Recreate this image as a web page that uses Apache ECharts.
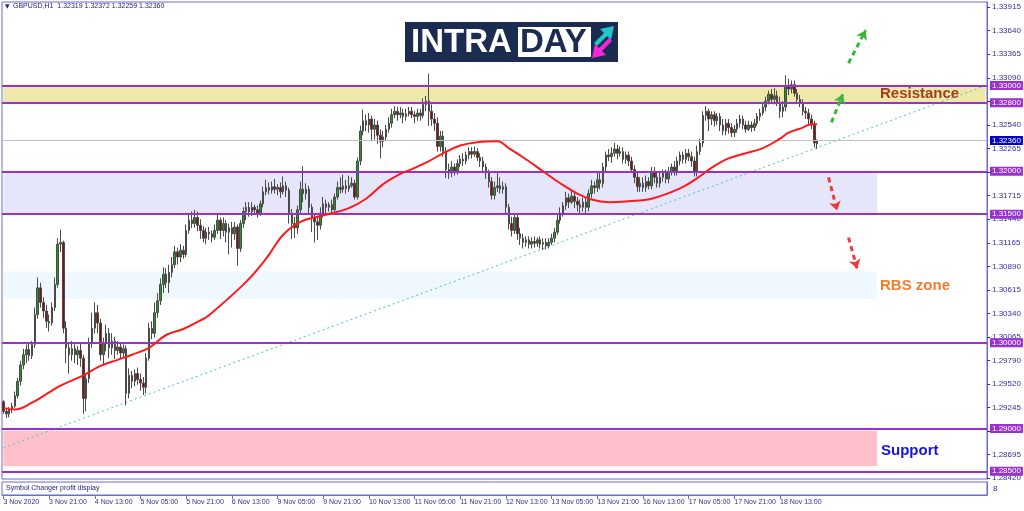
<!DOCTYPE html>
<html><head><meta charset="utf-8">
<script src="https://cdn.jsdelivr.net/npm/echarts@6/dist/echarts.min.js"></script>
<style>html,body{margin:0;padding:0;background:#fff}#c{width:1024px;height:511px}</style>
</head><body><div id="c"></div>
<script>
const tickLabels = ['3 Nov 2020','3 Nov 21:00','4 Nov 13:00','5 Nov 05:00','5 Nov 21:00','6 Nov 13:00','9 Nov 05:00','9 Nov 21:00','10 Nov 13:00','11 Nov 05:00','11 Nov 21:00','12 Nov 13:00','13 Nov 05:00','13 Nov 21:00','16 Nov 13:00','17 Nov 05:00','17 Nov 21:00','18 Nov 13:00'];
const TICK_STEP = 16;
const NSLOTS = 345;

const opens = [
1.2931,1.2920,1.2917,1.2922,1.2926,1.2938,1.2955,1.2974,1.2986,1.2992,
1.2985,1.2998,1.3033,1.3064,1.3047,1.3037,1.3025,1.3023,1.3041,1.3068,
1.3115,1.3117,1.3017,1.2994,1.2986,1.2993,1.2986,1.2991,1.2982,1.2935,
1.2958,1.3000,1.3017,1.3035,1.3023,1.2986,1.3000,1.3011,1.2994,1.3002,
1.2991,1.2995,1.2988,1.2993,1.2941,1.2962,1.2955,1.2964,1.2957,1.2953,
1.2948,1.2982,1.3017,1.3011,1.3035,1.3049,1.3068,1.3080,1.3070,1.3082,
1.3091,1.3106,1.3100,1.3108,1.3103,1.3131,1.3143,1.3139,1.3146,1.3137,
1.3131,1.3122,1.3129,1.3127,1.3123,1.3131,1.3143,1.3131,1.3139,1.3129,
1.3134,1.3127,1.3135,1.3110,1.3139,1.3153,1.3158,1.3153,1.3158,1.3155,
1.3151,1.3162,1.3176,1.3181,1.3178,1.3182,1.3179,1.3181,1.3176,1.3183,
1.3178,1.3151,1.3139,1.3134,1.3155,1.3179,1.3174,1.3179,1.3158,1.3146,
1.3141,1.3137,1.3151,1.3162,1.3158,1.3161,1.3155,1.3170,1.3181,1.3179,
1.3183,1.3180,1.3183,1.3186,1.3170,1.3212,1.3247,1.3259,1.3254,1.3261,
1.3249,1.3254,1.3242,1.3235,1.3240,1.3249,1.3256,1.3266,1.3270,1.3266,
1.3268,1.3264,1.3267,1.3270,1.3266,1.3264,1.3268,1.3265,1.3278,1.3282,
1.3270,1.3261,1.3256,1.3229,1.3241,1.3223,1.3202,1.3198,1.3205,1.3200,
1.3209,1.3214,1.3212,1.3219,1.3223,1.3220,1.3223,1.3216,1.3212,1.3205,
1.3198,1.3188,1.3172,1.3181,1.3183,1.3179,1.3182,1.3158,1.3139,1.3131,
1.3146,1.3127,1.3122,1.3117,1.3120,1.3115,1.3118,1.3116,1.3120,1.3115,
1.3117,1.3113,1.3117,1.3122,1.3129,1.3143,1.3151,1.3160,1.3169,1.3164,
1.3171,1.3165,1.3161,1.3158,1.3164,1.3158,1.3174,1.3183,1.3181,1.3190,
1.3186,1.3205,1.3219,1.3217,1.3221,1.3226,1.3221,1.3223,1.3214,1.3219,
1.3212,1.3202,1.3193,1.3182,1.3186,1.3181,1.3188,1.3183,1.3200,1.3193,
1.3186,1.3193,1.3198,1.3191,1.3200,1.3205,1.3200,1.3212,1.3219,1.3214,
1.3221,1.3217,1.3212,1.3200,1.3223,1.3233,1.3265,1.3270,1.3261,1.3266,
1.3259,1.3264,1.3254,1.3247,1.3256,1.3251,1.3245,1.3249,1.3256,1.3261,
1.3254,1.3249,1.3254,1.3251,1.3256,1.3264,1.3268,1.3275,1.3282,1.3290,
1.3284,1.3288,1.3280,1.3270,1.3275,1.3300,1.3296,1.3301,1.3291,1.3284,
1.3280,1.3270,1.3268,1.3261,1.3254,1.32319];
const closes = [
1.2920,1.2917,1.2922,1.2926,1.2938,1.2955,1.2974,1.2986,1.2992,1.2985,
1.2998,1.3033,1.3064,1.3047,1.3037,1.3025,1.3023,1.3041,1.3068,1.3115,
1.3117,1.3017,1.2994,1.2986,1.2993,1.2986,1.2991,1.2982,1.2935,1.2958,
1.3000,1.3017,1.3035,1.3023,1.2986,1.3000,1.3011,1.2994,1.3002,1.2991,
1.2995,1.2988,1.2993,1.2941,1.2962,1.2955,1.2964,1.2957,1.2953,1.2948,
1.2982,1.3017,1.3011,1.3035,1.3049,1.3068,1.3080,1.3070,1.3082,1.3091,
1.3106,1.3100,1.3108,1.3103,1.3131,1.3143,1.3139,1.3146,1.3137,1.3131,
1.3122,1.3129,1.3127,1.3123,1.3131,1.3143,1.3131,1.3139,1.3129,1.3134,
1.3127,1.3135,1.3110,1.3139,1.3153,1.3158,1.3153,1.3158,1.3155,1.3151,
1.3162,1.3176,1.3181,1.3178,1.3182,1.3179,1.3181,1.3176,1.3183,1.3178,
1.3151,1.3139,1.3134,1.3155,1.3179,1.3174,1.3179,1.3158,1.3146,1.3141,
1.3137,1.3151,1.3162,1.3158,1.3161,1.3155,1.3170,1.3181,1.3179,1.3183,
1.3180,1.3183,1.3186,1.3170,1.3212,1.3247,1.3259,1.3254,1.3261,1.3249,
1.3254,1.3242,1.3235,1.3240,1.3249,1.3256,1.3266,1.3270,1.3266,1.3268,
1.3264,1.3267,1.3270,1.3266,1.3264,1.3268,1.3265,1.3278,1.3282,1.3270,
1.3261,1.3256,1.3229,1.3241,1.3223,1.3202,1.3198,1.3205,1.3200,1.3209,
1.3214,1.3212,1.3219,1.3223,1.3220,1.3223,1.3216,1.3212,1.3205,1.3198,
1.3188,1.3172,1.3181,1.3183,1.3179,1.3182,1.3158,1.3139,1.3131,1.3146,
1.3127,1.3122,1.3117,1.3120,1.3115,1.3118,1.3116,1.3120,1.3115,1.3117,
1.3113,1.3117,1.3122,1.3129,1.3143,1.3151,1.3160,1.3169,1.3164,1.3171,
1.3165,1.3161,1.3158,1.3164,1.3158,1.3174,1.3183,1.3181,1.3190,1.3186,
1.3205,1.3219,1.3217,1.3221,1.3226,1.3221,1.3223,1.3214,1.3219,1.3212,
1.3202,1.3193,1.3182,1.3186,1.3181,1.3188,1.3183,1.3200,1.3193,1.3186,
1.3193,1.3198,1.3191,1.3200,1.3205,1.3200,1.3212,1.3219,1.3214,1.3221,
1.3217,1.3212,1.3200,1.3223,1.3233,1.3265,1.3270,1.3261,1.3266,1.3259,
1.3264,1.3254,1.3247,1.3256,1.3251,1.3245,1.3249,1.3256,1.3261,1.3254,
1.3249,1.3254,1.3251,1.3256,1.3264,1.3268,1.3275,1.3282,1.3290,1.3284,
1.3288,1.3280,1.3270,1.3275,1.3300,1.3296,1.3301,1.3291,1.3284,1.3280,
1.3270,1.3268,1.3261,1.3254,1.3233,1.32360];
const lows = [
1.2917,1.2912,1.2913,1.2918,1.2924,1.2935,1.2950,1.2969,1.2976,1.2979,
1.2981,1.2994,1.3028,1.3041,1.3029,1.3017,1.3013,1.3020,1.3037,1.3064,
1.3106,1.3011,1.2976,1.2964,1.2979,1.2976,1.2974,1.2972,1.2917,1.2920,
1.2953,1.2994,1.3011,1.3011,1.2979,1.2974,1.2990,1.2982,1.2986,1.2981,
1.2986,1.2981,1.2983,1.2927,1.2935,1.2947,1.2949,1.2951,1.2944,1.2939,
1.2941,1.2979,1.3004,1.3006,1.3029,1.3044,1.3058,1.3064,1.3058,1.3076,
1.3087,1.3091,1.3094,1.3098,1.3100,1.3127,1.3134,1.3134,1.3130,1.3121,
1.3117,1.3115,1.3120,1.3117,1.3120,1.3127,1.3121,1.3124,1.3117,1.3103,
1.3111,1.3120,1.3090,1.3106,1.3134,1.3143,1.3147,1.3148,1.3150,1.3146,
1.3148,1.3158,1.3172,1.3173,1.3174,1.3174,1.3172,1.3169,1.3173,1.3170,
1.3139,1.3121,1.3122,1.3127,1.3151,1.3164,1.3167,1.3151,1.3129,1.3117,
1.3120,1.3132,1.3146,1.3151,1.3153,1.3151,1.3153,1.3167,1.3174,1.3175,
1.3174,1.3176,1.3181,1.3167,1.3167,1.3207,1.3242,1.3247,1.3245,1.3235,
1.3237,1.3232,1.3215,1.3228,1.3235,1.3245,1.3251,1.3262,1.3259,1.3262,
1.3256,1.3259,1.3264,1.3262,1.3256,1.3259,1.3259,1.3262,1.3270,1.3253,
1.3253,1.3247,1.3223,1.3223,1.3217,1.3192,1.3191,1.3193,1.3195,1.3196,
1.3205,1.3206,1.3208,1.3214,1.3215,1.3217,1.3212,1.3205,1.3200,1.3191,
1.3181,1.3167,1.3167,1.3176,1.3174,1.3174,1.3151,1.3132,1.3124,1.3127,
1.3120,1.3114,1.3110,1.3112,1.3110,1.3110,1.3111,1.3112,1.3110,1.3108,
1.3109,1.3110,1.3114,1.3117,1.3126,1.3139,1.3147,1.3155,1.3157,1.3162,
1.3157,1.3153,1.3151,1.3153,1.3149,1.3153,1.3169,1.3174,1.3176,1.3179,
1.3181,1.3200,1.3212,1.3210,1.3217,1.3214,1.3217,1.3209,1.3209,1.3206,
1.3198,1.3186,1.3176,1.3176,1.3176,1.3176,1.3179,1.3179,1.3186,1.3181,
1.3181,1.3188,1.3186,1.3186,1.3195,1.3195,1.3195,1.3207,1.3209,1.3209,
1.3212,1.3205,1.3194,1.3194,1.3219,1.3228,1.3259,1.3247,1.3254,1.3252,
1.3254,1.3247,1.3242,1.3242,1.3244,1.3240,1.3240,1.3245,1.3251,1.3249,
1.3245,1.3247,1.3246,1.3247,1.3253,1.3259,1.3265,1.3270,1.3278,1.3280,
1.3278,1.3276,1.3262,1.3263,1.3270,1.3289,1.3291,1.3287,1.3280,1.3275,
1.3265,1.3261,1.3254,1.3249,1.3228,1.32259];
const highs = [
1.2933,1.2923,1.2925,1.2930,1.2943,1.2959,1.2979,1.2993,1.2998,1.3000,
1.3002,1.3041,1.3076,1.3070,1.3053,1.3044,1.3033,1.3047,1.3076,1.3122,
1.3132,1.3119,1.3025,1.3000,1.3002,1.2998,1.2996,1.3000,1.2986,1.2964,
1.3006,1.3035,1.3047,1.3044,1.3028,1.3006,1.3021,1.3017,1.3011,1.3007,
1.3002,1.3000,1.2998,1.2997,1.2970,1.2967,1.2969,1.2971,1.2964,1.2960,
1.2988,1.3023,1.3025,1.3047,1.3058,1.3075,1.3088,1.3087,1.3091,1.3100,
1.3113,1.3111,1.3115,1.3113,1.3138,1.3150,1.3153,1.3155,1.3153,1.3144,
1.3136,1.3134,1.3135,1.3131,1.3138,1.3150,1.3146,1.3146,1.3143,1.3139,
1.3141,1.3141,1.3138,1.3143,1.3158,1.3164,1.3164,1.3164,1.3161,1.3160,
1.3166,1.3182,1.3190,1.3187,1.3188,1.3191,1.3185,1.3187,1.3194,1.3188,
1.3181,1.3156,1.3147,1.3160,1.3188,1.3206,1.3186,1.3183,1.3162,1.3151,
1.3148,1.3158,1.3170,1.3167,1.3164,1.3167,1.3174,1.3188,1.3193,1.3196,
1.3190,1.3195,1.3193,1.3190,1.3216,1.3253,1.3272,1.3266,1.3268,1.3265,
1.3261,1.3259,1.3249,1.3247,1.3254,1.3263,1.3273,1.3276,1.3275,1.3275,
1.3273,1.3273,1.3275,1.3275,1.3270,1.3273,1.3273,1.3285,1.3288,1.3314,
1.3278,1.3268,1.3263,1.3247,1.3247,1.3228,1.3209,1.3212,1.3209,1.3214,
1.3219,1.3221,1.3223,1.3228,1.3228,1.3229,1.3227,1.3221,1.3217,1.3209,
1.3202,1.3193,1.3188,1.3198,1.3193,1.3188,1.3186,1.3162,1.3147,1.3151,
1.3151,1.3134,1.3127,1.3124,1.3124,1.3123,1.3124,1.3123,1.3124,1.3122,
1.3122,1.3122,1.3127,1.3134,1.3149,1.3158,1.3164,1.3176,1.3174,1.3177,
1.3176,1.3170,1.3167,1.3169,1.3169,1.3179,1.3190,1.3188,1.3198,1.3198,
1.3210,1.3223,1.3226,1.3228,1.3233,1.3231,1.3229,1.3228,1.3223,1.3223,
1.3217,1.3207,1.3198,1.3193,1.3193,1.3195,1.3193,1.3205,1.3205,1.3200,
1.3198,1.3202,1.3202,1.3205,1.3209,1.3212,1.3217,1.3223,1.3223,1.3226,
1.3226,1.3223,1.3217,1.3230,1.3238,1.3270,1.3276,1.3273,1.3270,1.3270,
1.3268,1.3268,1.3261,1.3261,1.3261,1.3256,1.3254,1.3261,1.3266,1.3265,
1.3259,1.3259,1.3258,1.3261,1.3268,1.3273,1.3280,1.3287,1.3294,1.3296,
1.3297,1.3294,1.3287,1.3282,1.3312,1.3308,1.3306,1.3306,1.3296,1.3289,
1.3284,1.3275,1.3273,1.3266,1.3259,1.32372];

const maIdx = [0,4,10,16,20,28,34,40,45,51,57,63,69,72,85,92,98,104,110,115,121,127,133,139,142,148,154,160,166,173,177,183,189,195,201,206,212,219,227,237,243,248,254,260,266,272,275,280,283,285];
const maVal = [1.2924,1.2922,1.2930,1.2942,1.2950,1.2962,1.2973,1.2980,1.2986,1.2994,1.3009,1.3016,1.3026,1.3032,1.3071,1.3098,1.3126,1.3141,1.3147,1.3151,1.3157,1.3168,1.3185,1.3197,1.3201,1.3210,1.3221,1.3230,1.3234,1.3235,1.3227,1.3214,1.3200,1.3186,1.3174,1.3167,1.3164,1.3165,1.3168,1.3180,1.3192,1.3204,1.3215,1.3221,1.3227,1.3238,1.3245,1.3251,1.3255,1.3255];

const priceTicks = [1.28420,1.28695,1.28970,1.29245,1.29520,1.29790,1.30065,1.30340,1.30615,1.30890,1.31165,1.31440,1.31715,1.31990,1.32265,1.32540,1.32815,1.33090,1.33365,1.33640,1.33915];
const levels = [1.33000,1.32800,1.32000,1.31500,1.30000,1.29000,1.28500];
const currentPrice = 1.32360;
const header = 'GBPUSD,H1  1.32319 1.32372 1.32259 1.32360';

// trendline anchors [bar index, price]
const trendA = [0, 1.28775];
const trendB = [344, 1.33000];

// zones
const zoneNames = ['resistance','range','rbs','support'];
const zoneX = [[0,344],[0,306],[0,306],[0,306]];
const zoneY = [[1.3280,1.3300],[1.3150,1.3200],[1.3051,1.3083],[1.2856,1.2897]];
const zoneColors = ['#eee8aa','#e6e6fa','#f0f8ff','#ffc0cb'];

// arrows: [fromIdx, fromPrice, toIdx, toPrice]
const upArrows = [[290,1.32571,294,1.32898],[296,1.33261,302,1.33646]];
const downArrows = [[289,1.31928,292,1.31543],[296,1.31227,299,1.30865]];

const categories = Array.from({length: NSLOTS}, (_, i) => i);
const candleData = opens.map((o, i) => [o, closes[i], lows[i], highs[i]]);
const maData = maIdx.map((x, k) => [x, maVal[k]]);

const FONT = 'Liberation Sans';
const AX_COLOR = '#2f2f9a';
const FRAME = '#6b6bd6';
const LEVEL = '#9b30d0';

const labelInterval = (idx) => idx % TICK_STEP === 0 && idx / TICK_STEP < tickLabels.length;
const priceLabel = (txt, bg) => ({show: true, position: 'end', distance: 3, formatter: () => txt, color: '#fff', backgroundColor: bg, fontSize: 8, fontFamily: FONT, padding: [1, 2, 0, 2]});

const chart = echarts.init(document.getElementById('c'), null, {renderer: 'canvas'});
chart.setOption({
  animation: false,
  backgroundColor: '#ffffff',
  grid: [
    {left: 2, right: 37, top: 2, bottom: 32, show: true, borderColor: FRAME, borderWidth: 1, backgroundColor: '#fff', outerBoundsMode: 'none'},
    {left: 2, right: 37, top: 482, height: 13, show: true, borderColor: FRAME, borderWidth: 1, outerBoundsMode: 'none'}
  ],
  xAxis: [
    {type: 'category', gridIndex: 0, data: categories, boundaryGap: true,
     axisLine: {show: false}, axisTick: {show: false}, axisLabel: {show: false}, splitLine: {show: false}},
    {type: 'category', gridIndex: 1, data: categories, boundaryGap: true,
     axisLine: {show: true, lineStyle: {color: FRAME}},
     axisTick: {show: true, interval: labelInterval, alignWithLabel: true, length: 4, lineStyle: {color: FRAME}},
     axisLabel: {show: true, interval: labelInterval, align: 'left', margin: 4, fontSize: 7, fontFamily: FONT, color: AX_COLOR,
       formatter: (v, idx) => tickLabels[idx / TICK_STEP] || ''},
     splitLine: {show: false}}
  ],
  yAxis: [
    {type: 'value', gridIndex: 0, position: 'right', min: 1.2841, max: 1.33975, scale: true,
     axisLine: {show: true, lineStyle: {color: FRAME}},
     axisTick: {show: true, length: 3, customValues: priceTicks, lineStyle: {color: AX_COLOR}},
     axisLabel: {show: true, customValues: priceTicks, margin: 5, fontSize: 8, fontFamily: FONT, color: AX_COLOR,
       formatter: v => v.toFixed(5)},
     splitLine: {show: false}},
    {type: 'value', gridIndex: 1, position: 'right', min: 0, max: 1,
     axisLine: {show: true, lineStyle: {color: FRAME}}, axisTick: {show: false}, axisLabel: {show: false}, splitLine: {show: false}}
  ],
  series: [
    {name: 'zones', type: 'line', xAxisIndex: 0, yAxisIndex: 0, data: [], z: 1, silent: true,
     markArea: {silent: true, data: zoneNames.map((n, k) => [
        {xAxis: zoneX[k][0], yAxis: zoneY[k][1], itemStyle: {color: zoneColors[k], opacity: 1}},
        {xAxis: zoneX[k][1], yAxis: zoneY[k][0]}])}},
    {name: 'levels', type: 'line', xAxisIndex: 0, yAxisIndex: 0, data: [], z: 2, silent: true,
     markLine: {silent: true, symbol: 'none', animation: false, precision: 5,
       data: [
         {yAxis: currentPrice, lineStyle: {color: '#c0c0c0', width: 1, type: 'solid'}, label: priceLabel(currentPrice.toFixed(5), '#0000c8')},
         ...levels.map(v => ({yAxis: v, lineStyle: {color: LEVEL, width: 2, type: 'solid'}, label: priceLabel(v.toFixed(5), LEVEL)}))
       ]}},
    {name: 'trend', type: 'line', xAxisIndex: 0, yAxisIndex: 0, data: [trendA, trendB], z: 3, symbol: 'none', silent: true,
     lineStyle: {color: '#44c4c4', width: 1, type: [2, 3]}},
    {name: 'GBPUSD', type: 'candlestick', xAxisIndex: 0, yAxisIndex: 0, data: candleData, z: 4, barWidth: 2,
     itemStyle: {color: '#1f9a1f', color0: '#8a0c0c', borderColor: '#4a4a4a', borderColor0: '#4a4a4a', borderWidth: 1}},
    {name: 'MA', type: 'line', xAxisIndex: 0, yAxisIndex: 0, data: maData, z: 5, smooth: 0.4, symbol: 'none', silent: true,
     lineStyle: {color: '#ff1a1a', width: 2}},
    {name: 'arrows', type: 'line', xAxisIndex: 0, yAxisIndex: 0, data: [], z: 6, silent: true,
     markLine: {silent: true, symbol: ['none', 'arrow'], symbolSize: 9, precision: 5, label: {show: false},
       data: [
         ...upArrows.map(a => [{coord: [a[0], a[1]], lineStyle: {color: '#3cb53c', width: 3, type: [5, 4]}}, {coord: [a[2], a[3]]}]),
         ...downArrows.map(a => [{coord: [a[0], a[1]], lineStyle: {color: '#f03a3a', width: 3, type: [5, 4]}}, {coord: [a[2], a[3]]}])
       ]}},
    {name: 'sub', type: 'line', xAxisIndex: 1, yAxisIndex: 1, data: [], silent: true}
  ],
  graphic: [
    {type: 'text', x: 5, y: 6, z: 100, style: {text: '▼', fontSize: 6, fontFamily: 'DejaVu Sans', fill: '#24247a', verticalAlign: 'middle'}},
    {type: 'text', x: 13, y: 6, z: 100, style: {text: header, fontSize: 7, fontFamily: FONT, fill: '#24247a', verticalAlign: 'middle'}},
    {type: 'text', x: 6, y: 488, z: 100, style: {text: 'Symbol Changer profit display', fontSize: 7, fontFamily: FONT, fill: '#24247a', verticalAlign: 'middle'}},
    {type: 'text', x: 993, y: 489, z: 100, style: {text: '8', fontSize: 8, fontFamily: FONT, fill: AX_COLOR, verticalAlign: 'middle'}},
    {type: 'text', x: 880, y: 94, z: 100, style: {text: 'Resistance', fontSize: 15, fontWeight: 'bold', fontFamily: FONT, fill: '#a33e1e', verticalAlign: 'middle'}},
    {type: 'text', x: 880, y: 286, z: 100, style: {text: 'RBS zone', fontSize: 15, fontWeight: 'bold', fontFamily: FONT, fill: '#f57c2a', verticalAlign: 'middle'}},
    {type: 'text', x: 881, y: 451, z: 100, style: {text: 'Support', fontSize: 15, fontWeight: 'bold', fontFamily: FONT, fill: '#1414e0', verticalAlign: 'middle'}},
    {type: 'rect', shape: {x: 405, y: 22, width: 213, height: 40}, style: {fill: '#1c2b50'}, z: 100},
    {type: 'text', x: 411, y: 43, z: 101, style: {text: 'INTRA', fontSize: 33, fontWeight: 'bold', fontFamily: FONT, fill: '#ffffff', verticalAlign: 'middle'}},
    {type: 'rect', shape: {x: 518, y: 27, width: 73, height: 30}, style: {fill: '#ffffff'}, z: 101},
    {type: 'text', x: 520, y: 43, z: 102, style: {text: 'DAY', fontSize: 33, fontWeight: 'bold', fontFamily: FONT, fill: '#1c2b50', verticalAlign: 'middle'}},
    {type: 'polygon', z: 102, shape: {points: [[594,43],[604,33],[600,29],[614,26],[611,40],[607,36],[597,46]]}, style: {fill: '#1ec8c8'}},
    {type: 'polygon', z: 102, shape: {points: [[612,41],[602,51],[606,55],[592,58],[595,44],[599,48],[609,38]]}, style: {fill: '#ee2ad8'}}
  ]
});
</script></body></html>
